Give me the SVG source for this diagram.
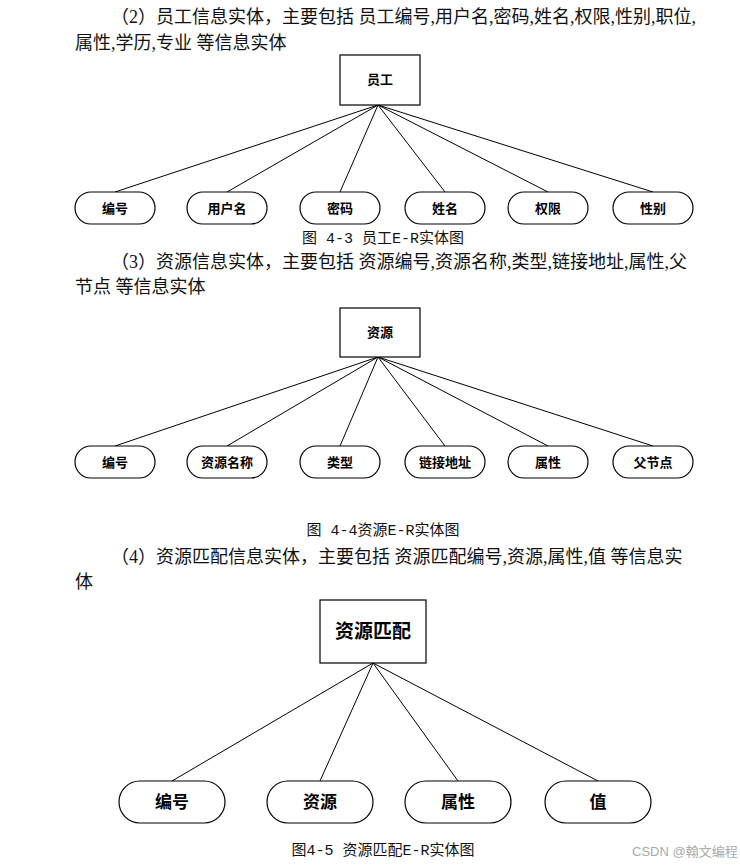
<svg xmlns="http://www.w3.org/2000/svg" width="740" height="865" viewBox="0 0 740 865">
<style>
.body{font-family:"Liberation Serif","Noto Sans CJK SC",serif;font-size:18px;fill:#111}
.cap{font-family:"Liberation Mono","Noto Sans CJK SC",monospace;font-size:15px;fill:#111;text-anchor:middle}
.ent{fill:#fff;stroke:#000;stroke-width:1.2}
.attr{fill:#fff;stroke:#000;stroke-width:1.2}
.lbl{font-family:"Liberation Serif","Noto Sans CJK SC",serif;font-weight:bold;font-size:13px;text-anchor:middle;dominant-baseline:central;fill:#000}
.lbl2{font-family:"Liberation Serif","Noto Sans CJK SC",serif;font-weight:bold;font-size:17px;text-anchor:middle;dominant-baseline:central;fill:#000}
.lbl3{font-family:"Liberation Serif","Noto Sans CJK SC",serif;font-weight:bold;font-size:19px;text-anchor:middle;dominant-baseline:central;fill:#000}
.conn line{stroke:#000;stroke-width:1}
.wm{font-family:"Liberation Sans","Noto Sans CJK SC",sans-serif;font-size:13px;fill:#aaa}
</style>
<rect width="740" height="865" fill="#fff"/>

<text class="body" x="111" y="23">（2）员工信息实体，主要包括 员工编号,用户名,密码,姓名,权限,性别,职位,</text>
<text class="body" x="75" y="49">属性,学历,专业 等信息实体</text>

<g id="conn1" class="conn">
<line x1="378" y1="105" x2="115" y2="192"/>
<line x1="378" y1="105" x2="227" y2="192"/>
<line x1="378" y1="105" x2="340" y2="192"/>
<line x1="378" y1="105" x2="445" y2="192"/>
<line x1="378" y1="105" x2="548" y2="192"/>
<line x1="378" y1="105" x2="653" y2="192"/>
</g>
<g id="e-yuangong"><rect class="ent" x="340" y="55" width="80" height="50"/><text class="lbl" x="380" y="79">员工</text></g>
<g id="a1-bianhao"><rect class="attr" x="75" y="192" width="80" height="32" rx="16"/><text class="lbl" x="115" y="208">编号</text></g>
<g id="a1-yonghuming"><rect class="attr" x="187" y="192" width="80" height="32" rx="16"/><text class="lbl" x="227" y="208">用户名</text></g>
<g id="a1-mima"><rect class="attr" x="300" y="192" width="80" height="32" rx="16"/><text class="lbl" x="340" y="208">密码</text></g>
<g id="a1-xingming"><rect class="attr" x="405" y="192" width="80" height="32" rx="16"/><text class="lbl" x="445" y="208">姓名</text></g>
<g id="a1-quanxian"><rect class="attr" x="508" y="192" width="80" height="32" rx="16"/><text class="lbl" x="548" y="208">权限</text></g>
<g id="a1-xingbie"><rect class="attr" x="613" y="192" width="80" height="32" rx="16"/><text class="lbl" x="653" y="208">性别</text></g>
<text class="cap" x="383" y="243">图 4-3 员工E-R实体图</text>

<text class="body" x="111" y="268">（3）资源信息实体，主要包括 资源编号,资源名称,类型,链接地址,属性,父</text>
<text class="body" x="75" y="293">节点 等信息实体</text>

<g id="conn2" class="conn">
<line x1="378" y1="357" x2="115" y2="446"/>
<line x1="378" y1="357" x2="227" y2="446"/>
<line x1="378" y1="357" x2="340" y2="446"/>
<line x1="378" y1="357" x2="445" y2="446"/>
<line x1="378" y1="357" x2="548" y2="446"/>
<line x1="378" y1="357" x2="653" y2="446"/>
</g>
<g id="e-ziyuan"><rect class="ent" x="340" y="308" width="80" height="49"/><text class="lbl" x="380" y="332">资源</text></g>
<g id="a2-bianhao"><rect class="attr" x="75" y="446" width="80" height="32" rx="16"/><text class="lbl" x="115" y="462">编号</text></g>
<g id="a2-mingcheng"><rect class="attr" x="187" y="446" width="80" height="32" rx="16"/><text class="lbl" x="227" y="462">资源名称</text></g>
<g id="a2-leixing"><rect class="attr" x="300" y="446" width="80" height="32" rx="16"/><text class="lbl" x="340" y="462">类型</text></g>
<g id="a2-lianjie"><rect class="attr" x="405" y="446" width="80" height="32" rx="16"/><text class="lbl" x="445" y="462">链接地址</text></g>
<g id="a2-shuxing"><rect class="attr" x="508" y="446" width="80" height="32" rx="16"/><text class="lbl" x="548" y="462">属性</text></g>
<g id="a2-fujiedian"><rect class="attr" x="613" y="446" width="80" height="32" rx="16"/><text class="lbl" x="653" y="462">父节点</text></g>
<text class="cap" x="383" y="535">图 4-4资源E-R实体图</text>

<text class="body" x="111" y="563">（4）资源匹配信息实体，主要包括 资源匹配编号,资源,属性,值 等信息实</text>
<text class="body" x="75" y="588">体</text>

<g id="conn3" class="conn">
<line x1="373" y1="663" x2="172" y2="781"/>
<line x1="373" y1="663" x2="320" y2="781"/>
<line x1="373" y1="663" x2="458" y2="781"/>
<line x1="373" y1="663" x2="598" y2="781"/>
</g>
<g id="e-ziyuanpipei"><rect class="ent" x="320" y="600" width="106" height="63"/><text class="lbl3" x="373" y="631">资源匹配</text></g>
<g id="a3-bianhao"><rect class="attr" x="119" y="781" width="106" height="42" rx="21"/><text class="lbl2" x="172" y="802">编号</text></g>
<g id="a3-ziyuan"><rect class="attr" x="267" y="781" width="106" height="42" rx="21"/><text class="lbl2" x="320" y="802">资源</text></g>
<g id="a3-shuxing"><rect class="attr" x="405" y="781" width="106" height="42" rx="21"/><text class="lbl2" x="458" y="802">属性</text></g>
<g id="a3-zhi"><rect class="attr" x="545" y="781" width="106" height="42" rx="21"/><text class="lbl2" x="598" y="802">值</text></g>
<text class="cap" x="383" y="855">图4-5 资源匹配E-R实体图</text>

<text class="wm" x="632" y="856">CSDN @翰文编程</text>
</svg>
